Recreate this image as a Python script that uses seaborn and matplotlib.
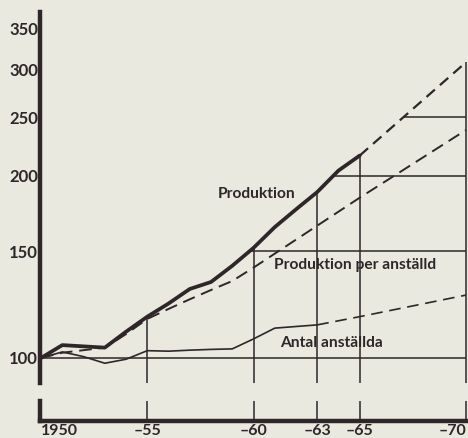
import numpy as np
import seaborn as sns
import matplotlib.pyplot as plt
from matplotlib.ticker import FixedLocator, FixedFormatter, NullLocator

# Index 1950 = 100
prod_years = list(range(1950, 1966))
prod = [100, 105, 104.5, 104, 110.5, 117, 123, 130, 133.5, 142, 152, 164.5, 176, 188, 204, 216]
prod_proj_years = [1965, 1970]
prod_proj = [216, 308]

per_years = list(range(1950, 1961)) + [1965, 1970]
per = [100, 102, 103, 104, 109.5, 116, 120.5, 125, 129.5, 134, 141, 184, 238]

antal_years = list(range(1950, 1964))
antal = [100, 102.3, 100.5, 98, 99.5, 102.8, 102.6, 103, 103.3, 103.5, 107.5, 112, 112.7, 113.4]
antal_proj_years = [1963, 1965, 1970]
antal_proj = [113.4, 117, 127]

y_ticks = [100, 150, 200, 250, 300, 350]
x_ticks = [1950, 1955, 1960, 1963, 1965, 1970]
x_labels = ['1950', '–55', '–60', '–63', '–65', '–70']
guide_years = [1955, 1960, 1963, 1965, 1970]
guide_levels = [100, 150, 200, 250]

BG = '#e9e9df'
INK = '#2f2629'
FONT = 'Lato'

sns.set_style('white')
plt.rcParams['font.family'] = [FONT, 'DejaVu Sans']

W, H = 468, 438
fig = plt.figure(figsize=(W / 100, H / 100), dpi=100, facecolor=BG)


def box(x0, y0, x1, y1):
    return [x0 / W, 1 - y1 / H, (x1 - x0) / W, (y1 - y0) / H]


ax = fig.add_axes(box(40, 12, 467, 383))
ax2 = fig.add_axes(box(40, 401, 467, 421))
xlim = (1949.95, 1970.05)

for a in (ax, ax2):
    a.set_facecolor(BG)
    a.set_xlim(*xlim)
    for s in a.spines.values():
        s.set_visible(False)
    a.spines['left'].set_visible(True)
    a.spines['left'].set_linewidth(3.2)
    a.spines['left'].set_color(INK)

ax.set_yscale('log')
ax.set_ylim(90.9, 373)
ax.yaxis.set_major_locator(FixedLocator(y_ticks))
ax.yaxis.set_major_formatter(FixedFormatter([str(v) for v in y_ticks]))
ax.yaxis.set_minor_locator(NullLocator())
ax.tick_params(axis='y', direction='in', length=6, width=1.4, color=INK,
               pad=1.5, labelsize=12, labelcolor=INK)
for t in ax.get_yticklabels():
    t.set_fontweight('bold')
ax.set_xticks([])

ax2.spines['bottom'].set_visible(True)
ax2.spines['bottom'].set_linewidth(3.2)
ax2.spines['bottom'].set_color(INK)
ax2.set_ylim(0, 1)
ax2.set_yticks([])
ax2.set_xticks(x_ticks)
ax2.set_xticklabels(x_labels, fontsize=11.5, fontweight='bold', color=INK)
ax2.tick_params(axis='x', length=0, pad=2)
labels = ax2.get_xticklabels()
labels[0].set_ha('left')
labels[-1].set_ha('right')

# guide lines drawn from the production curve
full_years = np.array(prod_years + prod_proj_years[1:], dtype=float)
full_vals = np.array(prod + prod_proj[1:], dtype=float)
lv = np.log(full_vals)


def crossing(level):
    i = int(np.argmax(full_vals >= level))
    if i == 0:
        return full_years[0]
    f = (np.log(level) - lv[i - 1]) / (lv[i] - lv[i - 1])
    return full_years[i - 1] + f * (full_years[i] - full_years[i - 1])


for lvl in guide_levels:
    ax.hlines(lvl, crossing(lvl), 1970, color=INK, lw=1.1)
for yr in guide_years:
    top = np.exp(np.interp(yr, full_years, lv))
    ax.vlines(yr, 90.9, top, color=INK, lw=1.1)
    ax2.vlines(yr, 0, 1, color=INK, lw=1.1)

sns.lineplot(x=prod_years, y=prod, ax=ax, color=INK, linewidth=2.7,
             solid_joinstyle='round', solid_capstyle='round')
sns.lineplot(x=prod_proj_years, y=prod_proj, ax=ax, color=INK, linewidth=1.6,
             linestyle=(0, (5, 3)))
sns.lineplot(x=per_years, y=per, ax=ax, color=INK, linewidth=1.4,
             linestyle=(0, (6.5, 3.5)))
sns.lineplot(x=antal_years, y=antal, ax=ax, color=INK, linewidth=1.2)
sns.lineplot(x=antal_proj_years, y=antal_proj, ax=ax, color=INK, linewidth=1.2,
             linestyle=(0, (7, 4)))
ax.set_xlim(*xlim)
ax.set_ylim(90.9, 373)
ax.set_xlabel('')
ax.set_ylabel('')

txt = dict(color=INK, fontsize=11.2, fontweight='bold', ha='left', va='center')
ax.text(1958.3, 186.5, 'Produktion', **txt)
ax.text(1960.95, 142.4, 'Produktion per anställd', **txt)
ax.text(1961.27, 105.9, 'Antal anställda', **txt)

fig.savefig('out.png', dpi=100, facecolor=BG)
